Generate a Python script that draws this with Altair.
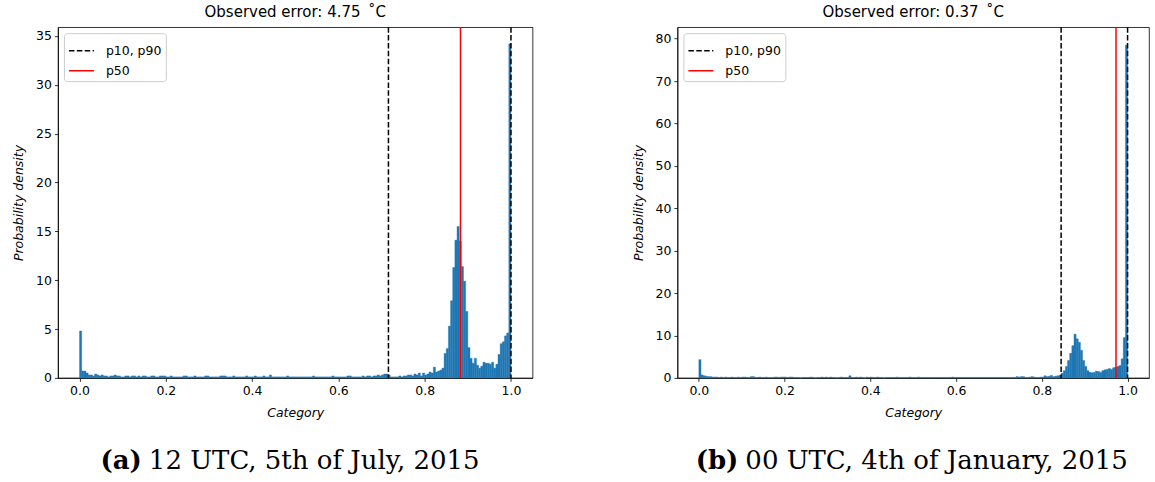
import altair as alt
import pandas as pd

BIN_W = 0.005

# Probability density per bin (200 bins of width 0.005 on [0, 1])
dens_a = [
    4.8, 0.7, 0.7, 0.5, 0.3, 0.3, 0.2, 0.4, 0.3, 0.2,
    0.3, 0.2, 0.2, 0.1, 0.2, 0.2, 0.3, 0.2, 0.2, 0.1,
    0.1, 0.2, 0.2, 0.1, 0.2, 0.2, 0.1, 0.2, 0.1, 0.2,
    0.2, 0.1, 0.1, 0.2, 0.2, 0.1, 0.1, 0.2, 0.2, 0.2,
    0.1, 0.1, 0.2, 0.1, 0.1, 0.1, 0.1, 0.1, 0.2, 0.2,
    0.1, 0.1, 0.1, 0.2, 0.1, 0.1, 0.1, 0.1, 0.2, 0.2,
    0.1, 0.1, 0.1, 0.1, 0.1, 0.2, 0.2, 0.2, 0.1, 0.1,
    0.1, 0.2, 0.1, 0.1, 0.1, 0.1, 0.1, 0.2, 0.1, 0.1,
    0.1, 0.2, 0.1, 0.1, 0.1, 0.2, 0.1, 0.1, 0.3, 0.1,
    0.1, 0.1, 0.1, 0.1, 0.1, 0.1, 0.2, 0.1, 0.1, 0.1,
    0.1, 0.1, 0.1, 0.1, 0.1, 0.1, 0.1, 0.1, 0.2, 0.1,
    0.1, 0.1, 0.1, 0.1, 0.1, 0.1, 0.1, 0.2, 0.1, 0.1,
    0.1, 0.1, 0.1, 0.1, 0.2, 0.2, 0.1, 0.1, 0.1, 0.1,
    0.1, 0.2, 0.1, 0.2, 0.2, 0.1, 0.2, 0.2, 0.3, 0.2,
    0.3, 0.4, 0.4, 0.3, 0.1, 0.1, 0.1, 0.1, 0.2, 0.1,
    0.2, 0.2, 0.3, 0.3, 0.2, 0.4, 0.3, 0.5, 0.2, 0.5,
    0.3, 0.4, 0.6, 0.5, 1.1, 0.6, 0.7, 0.8, 1.0, 2.5,
    3.0, 5.3, 7.9, 11.3, 14.1, 15.5, 14.0, 11.4, 9.9, 6.8,
    3.1, 2.0, 1.5, 2.0, 1.3, 1.0, 1.2, 1.6, 1.5, 1.5,
    1.4, 1.6, 1.0, 1.4, 2.4, 3.5, 3.7, 4.3, 4.6, 34.2,
]

dens_b = [
    4.3, 0.7, 0.5, 0.4, 0.3, 0.3, 0.2, 0.2, 0.2, 0.1,
    0.2, 0.1, 0.2, 0.1, 0.1, 0.2, 0.1, 0.1, 0.2, 0.1,
    0.2, 0.2, 0.1, 0.1, 0.3, 0.3, 0.1, 0.1, 0.2, 0.1,
    0.1, 0.2, 0.1, 0.1, 0.1, 0.2, 0.2, 0.1, 0.2, 0.2,
    0.2, 0.1, 0.2, 0.2, 0.1, 0.1, 0.1, 0.0, 0.1, 0.1,
    0.1, 0.1, 0.2, 0.1, 0.0, 0.1, 0.1, 0.2, 0.1, 0.2,
    0.1, 0.2, 0.1, 0.1, 0.0, 0.1, 0.2, 0.1, 0.1, 0.1,
    0.5, 0.1, 0.1, 0.2, 0.1, 0.2, 0.1, 0.0, 0.2, 0.1,
    0.2, 0.1, 0.1, 0.2, 0.1, 0.1, 0.0, 0.1, 0.1, 0.1,
    0.1, 0.1, 0.2, 0.1, 0.1, 0.1, 0.1, 0.1, 0.2, 0.1,
    0.1, 0.1, 0.2, 0.1, 0.1, 0.1, 0.1, 0.1, 0.1, 0.1,
    0.1, 0.1, 0.1, 0.1, 0.1, 0.1, 0.1, 0.1, 0.2, 0.1,
    0.1, 0.1, 0.1, 0.1, 0.1, 0.1, 0.1, 0.1, 0.1, 0.1,
    0.1, 0.1, 0.1, 0.1, 0.1, 0.1, 0.1, 0.1, 0.1, 0.1,
    0.1, 0.1, 0.1, 0.1, 0.1, 0.1, 0.1, 0.1, 0.3, 0.2,
    0.3, 0.3, 0.1, 0.1, 0.2, 0.3, 0.2, 0.1, 0.1, 0.2,
    0.2, 0.5, 0.3, 0.4, 0.6, 0.3, 0.4, 0.5, 0.6, 1.1,
    1.7, 2.7, 4.1, 5.8, 7.6, 10.3, 9.2, 8.4, 6.5, 4.1,
    2.7, 1.7, 1.3, 1.2, 1.3, 1.6, 1.5, 1.3, 1.7, 1.9,
    2.0, 2.2, 2.0, 2.4, 2.5, 2.7, 2.9, 4.5, 9.5, 78.5,
]

# Percentile lines: p10, p50, p90
pct_a = [0.716, 0.883, 1.0]
pct_b = [0.845, 0.973, 1.0]

titles = ["Observed error: 4.75\u2002\u02daC", "Observed error: 0.37\u2002\u02daC"]
cap_labels = ["(a)", "(b)"]
cap_texts = ["12 UTC, 5th of July, 2015", "00 UTC, 4th of January, 2015"]
y_max = [35.9, 82.7]
y_ticks = [[0, 5, 10, 15, 20, 25, 30, 35], [0, 10, 20, 30, 40, 50, 60, 70, 80]]
x_ticks = [0.0, 0.2, 0.4, 0.6, 0.8, 1.0]
legend_keys = ["p10, p90", "p50"]

PLOT_H = 351
FONT = "DejaVu Sans"
SERIF = "DejaVu Serif"


def panel(dens, pct, title, lab, txt, ymax, yticks, w, cap_x):
    df = pd.DataFrame({
        "x0": [i * BIN_W for i in range(len(dens))],
        "x1": [(i + 1) * BIN_W for i in range(len(dens))],
        "d": dens,
    })
    xs = alt.Scale(domain=[-0.05, 1.05], nice=False, zero=False)
    ys = alt.Scale(domain=[0, ymax], nice=False, zero=True)
    bars = alt.Chart(df).mark_bar(color="#1f77b4", stroke="#1f77b4", strokeWidth=0.4).encode(
        x=alt.X("x0:Q", scale=xs,
                axis=alt.Axis(values=x_ticks, format=".1f", title="Category")),
        x2="x1:Q",
        y=alt.Y("d:Q", scale=ys,
                axis=alt.Axis(values=yticks, format="d", title="Probability density")),
        y2=alt.datum(0),
    )
    ldf = pd.DataFrame({"x": [pct[0], pct[2], pct[1]],
                        "k": [legend_keys[0], legend_keys[0], legend_keys[1]]})
    leg = alt.Legend(title=None, orient="top-left", offset=6, padding=4,
                     strokeColor="#cccccc", fillColor="white", cornerRadius=3,
                     symbolType="stroke", symbolSize=625, symbolStrokeWidth=1.5,
                     labelFont=FONT, labelFontSize=12.5, labelColor="black",
                     labelOffset=11, rowPadding=-6)
    rules = alt.Chart(ldf).mark_rule(strokeWidth=1.5).encode(
        x=alt.X("x:Q", scale=xs),
        color=alt.Color("k:N", scale=alt.Scale(domain=legend_keys, range=["black", "red"]),
                        legend=leg),
        strokeDash=alt.StrokeDash("k:N", scale=alt.Scale(domain=legend_keys,
                                                         range=[[5.5, 2.4], [1, 0]]),
                                  legend=leg),
    )
    cdf = pd.DataFrame({"a": [lab], "b": [txt]})
    cap_a = alt.Chart(cdf).mark_text(font=SERIF, fontSize=26, fontWeight="bold",
                                     align="right", baseline="alphabetic", color="black").encode(
        x=alt.value(cap_x), y=alt.value(PLOT_H + 91), text="a:N")
    cap_b = alt.Chart(cdf).mark_text(font=SERIF, fontSize=26, fontWeight="normal",
                                     align="left", baseline="alphabetic", color="black").encode(
        x=alt.value(cap_x + 7), y=alt.value(PLOT_H + 91), text="b:N")
    return alt.layer(bars, rules, cap_a, cap_b).properties(
        width=w, height=PLOT_H,
        title=alt.TitleParams(title, font=FONT, fontSize=15, fontWeight="normal",
                              color="black", offset=6, frame="group"),
    ).resolve_scale(color="independent", strokeDash="independent")


left = panel(dens_a, pct_a, titles[0], cap_labels[0], cap_texts[0], y_max[0], y_ticks[0], 475, 84)
right = panel(dens_b, pct_b, titles[1], cap_labels[1], cap_texts[1], y_max[1], y_ticks[1], 472, 61)

chart = alt.hconcat(left, right, spacing=98).resolve_scale(
    color="independent", strokeDash="independent"
).resolve_legend(color="independent", strokeDash="independent").properties(
    padding={"left": 12, "top": 4, "right": 5, "bottom": 5}
).configure_axis(
    labelFont=FONT, labelFontSize=12.5, labelColor="black",
    titleFont=FONT, titleFontSize=12.5, titleFontStyle="italic", titleFontWeight="normal",
    titleColor="black", tickColor="black", domainColor="black", domainWidth=0.8,
    tickWidth=0.8, tickSize=3.5, labelPadding=3, titlePadding=10, grid=False,
).configure_view(stroke="black", strokeWidth=0.8)

chart.save("out.html", embed_options={"renderer": "svg", "actions": False})
